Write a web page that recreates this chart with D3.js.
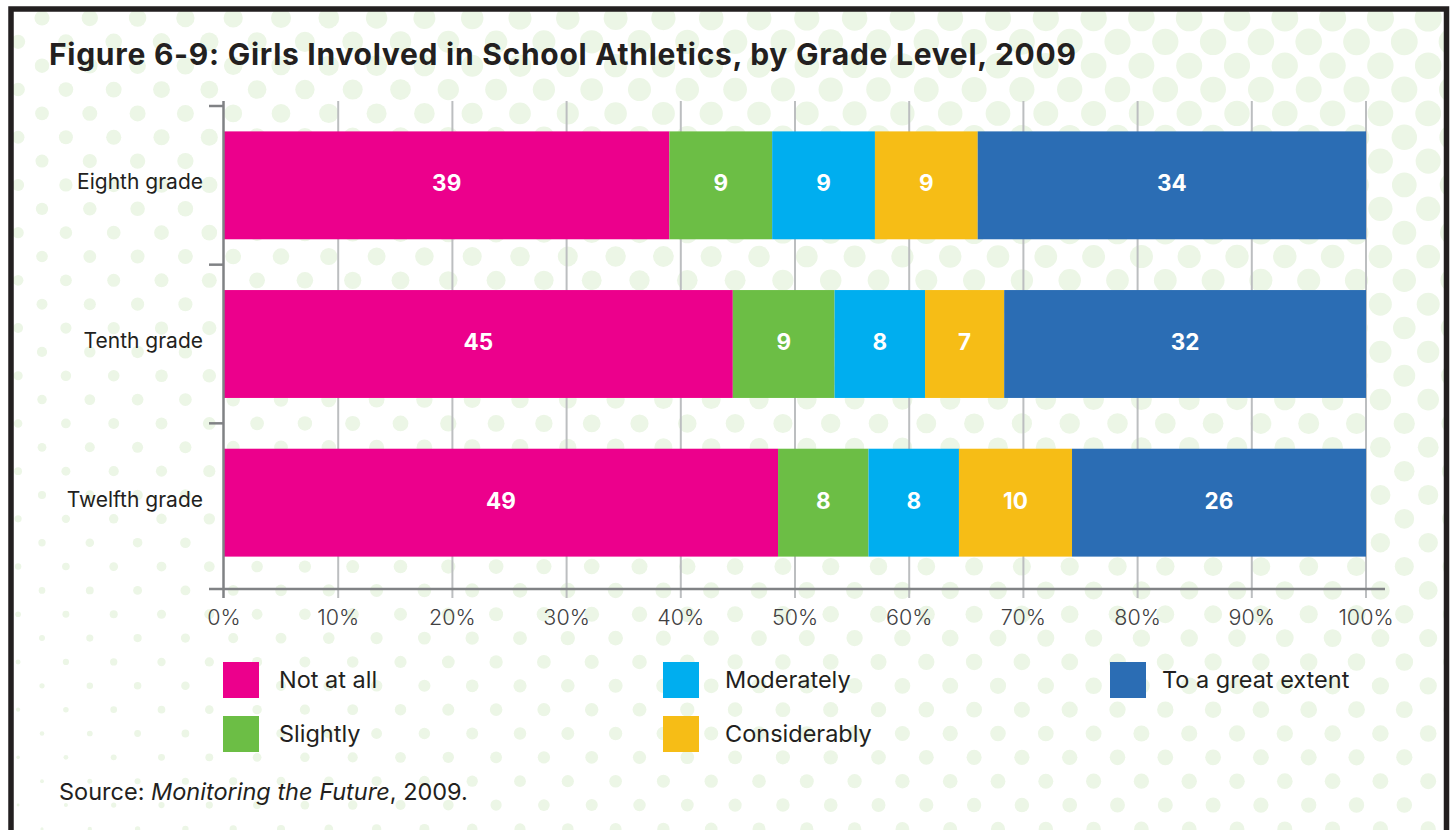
<!DOCTYPE html>
<html>
<head>
<meta charset="utf-8">
<script src="https://cdn.jsdelivr.net/npm/d3@7"></script>
<style>
  html, body { margin: 0; padding: 0; background: #ffffff; }
  svg { display: block; }
  text { font-family: Inter, Lato, "Open Sans", sans-serif; }
</style>
</head>
<body>
<svg id="chart" width="1453" height="830"></svg>
<script>
// ---- Data ----
const title = "Figure 6-9: Girls Involved in School Athletics, by Grade Level, 2009";
const categories = ["Eighth grade", "Tenth grade", "Twelfth grade"];
const seriesNames = ["Not at all", "Slightly", "Moderately", "Considerably", "To a great extent"];
const notAtAll = [39, 45, 49];
const slightly = [9, 9, 8];
const moderately = [9, 8, 8];
const considerably = [9, 7, 10];
const greatExtent = [34, 32, 26];
const seriesColors = ["#ec008c", "#6cbe45", "#00aeef", "#f6bd16", "#2b6db4"];
const xTickValues = [0, 0.1, 0.2, 0.3, 0.4, 0.5, 0.6, 0.7, 0.8, 0.9, 1.0];
const xTickLabels = ["0%", "10%", "20%", "30%", "40%", "50%", "60%", "70%", "80%", "90%", "100%"];
const legendColumns = [["Not at all", "Slightly"], ["Moderately", "Considerably"], ["To a great extent"]];

const seriesValues = [notAtAll, slightly, moderately, considerably, greatExtent];
const table = categories.map((c, i) => {
  const row = { category: c };
  seriesNames.forEach((s, k) => { row[s] = seriesValues[k][i]; });
  return row;
});

// ---- Setup ----
const svg = d3.select("#chart");
const defs = svg.append("defs");
defs.append("clipPath").attr("id", "frameClip")
  .append("rect").attr("x", 13).attr("y", 11).attr("width", 1431).attr("height", 830);

// Decorative dotted background
const bg = svg.append("g").attr("clip-path", "url(#frameClip)");
const dots = [];
for (let k = -1; k < 36; k++) {
  const yy = 18 + k * 23.85;
  for (let j = -1; j < 32; j++) {
    const xx = 42 + j * 47.8 - (Math.abs(k) % 2 === 1 ? 23.9 : 0);
    const r = 1 + 7 * (1 - Math.exp(-Math.max(xx, 0) / 500)) + 6 * Math.max(0, (830 - yy) / 810);
    dots.push({ x: xx, y: yy, r });
  }
}
bg.selectAll("circle").data(dots).join("circle")
  .attr("cx", d => d.x).attr("cy", d => d.y).attr("r", d => d.r)
  .attr("fill", "#ecf6e6");

// Frame
svg.append("rect").attr("x", 11).attr("y", 9).attr("width", 1435.5).attr("height", 900)
  .attr("fill", "none").attr("stroke", "#231f20").attr("stroke-width", 5.5);

// Title: grow the font a little, then spread the remainder with letter-spacing
const titleText = svg.append("text").attr("x", 49).attr("y", 65)
  .attr("font-size", 27.5).attr("font-weight", 700).attr("fill", "#231f20")
  .text(title);
(function fitTitle(sel, target) {
  const node = sel.node();
  const w0 = node.getComputedTextLength();
  const fs = Math.min(30, 27.5 * target / w0);
  sel.attr("font-size", fs);
  const w1 = node.getComputedTextLength();
  const n = node.getNumberOfChars();
  sel.attr("letter-spacing", ((target - w1) / (n - 1)).toFixed(3));
})(titleText, 1027);

// Scales
const x = d3.scaleLinear().domain([0, 1]).range([224, 1366]);
const y = d3.scaleBand().domain(categories).range([106, 582]).paddingInner(0.32).paddingOuter(0.16);

// Gridlines
svg.append("g").selectAll("line").data(xTickValues.slice(1)).join("line")
  .attr("x1", d => x(d)).attr("x2", d => x(d))
  .attr("y1", 101).attr("y2", 598)
  .attr("stroke", "#bcbec0").attr("stroke-width", 2);

// Bars
const stack = d3.stack().keys(seriesNames).offset(d3.stackOffsetExpand);
const stacked = stack(table);
const color = d3.scaleOrdinal().domain(seriesNames).range(seriesColors);

const layers = svg.append("g").selectAll("g").data(stacked).join("g")
  .attr("fill", d => color(d.key));
layers.selectAll("rect").data(d => d).join("rect")
  .attr("x", d => x(d[0]))
  .attr("y", d => y(d.data.category))
  .attr("width", d => x(d[1]) - x(d[0]))
  .attr("height", y.bandwidth());

// Bar labels
const labels = svg.append("g");
stacked.forEach(layer => {
  labels.selectAll(null).data(layer).join("text")
    .attr("x", d => (x(d[0]) + x(d[1])) / 2)
    .attr("y", d => y(d.data.category) + y.bandwidth() / 2 + 6)
    .attr("text-anchor", "middle")
    .attr("font-size", 22.5).attr("font-weight", 700).attr("fill", "#ffffff")
    .text(d => d.data[layer.key]);
});

// X axis line
svg.append("line").attr("x1", 209).attr("x2", 1385).attr("y1", 589).attr("y2", 589)
  .attr("stroke", "#808285").attr("stroke-width", 2.5);
// Y axis line
svg.append("line").attr("x1", 223.5).attr("x2", 223.5).attr("y1", 101).attr("y2", 598)
  .attr("stroke", "#808285").attr("stroke-width", 2.5);
// Y boundary ticks
const step = y.step();
const boundaries = categories.map(c => y(c) - step * 0.16);
svg.selectAll("line.ytick").data(boundaries).join("line")
  .attr("class", "ytick")
  .attr("x1", 209).attr("x2", 224).attr("y1", d => d).attr("y2", d => d)
  .attr("stroke", "#808285").attr("stroke-width", 2.5);

// X tick labels
svg.selectAll("text.xt").data(xTickValues).join("text")
  .attr("class", "xt")
  .attr("x", d => x(d)).attr("y", 625)
  .attr("text-anchor", "middle")
  .attr("font-size", 21.5).attr("font-weight", 300).attr("fill", "#414042")
  .text((d, i) => xTickLabels[i]);

// Category labels
svg.selectAll("text.cat").data(categories).join("text")
  .attr("class", "cat")
  .attr("x", 203).attr("y", d => y(d) + y.bandwidth() / 2 + 4)
  .attr("text-anchor", "end")
  .attr("font-size", 21).attr("font-weight", 400).attr("fill", "#231f20")
  .text(d => d);

// Legend
const legendX = [223, 663, 1110];
const legendTextDx = [56, 62, 52];
const legendY = [662, 716];
legendColumns.forEach((col, ci) => {
  col.forEach((name, ri) => {
    const lg = svg.append("g").attr("transform", `translate(${legendX[ci]},${legendY[ri]})`);
    lg.append("rect").attr("width", 36).attr("height", 36).attr("fill", color(name));
    lg.append("text").attr("x", legendTextDx[ci]).attr("y", 26)
      .attr("font-size", 23.5).attr("font-weight", 400).attr("fill", "#231f20")
      .text(name);
  });
});

// Source
const src = svg.append("text").attr("x", 59).attr("y", 800)
  .attr("font-size", 23.5).attr("font-weight", 400).attr("fill", "#231f20");
src.append("tspan").text("Source: ");
src.append("tspan").attr("font-style", "italic").text("Monitoring the Future");
src.append("tspan").text(", 2009.");
</script>
</body>
</html>
